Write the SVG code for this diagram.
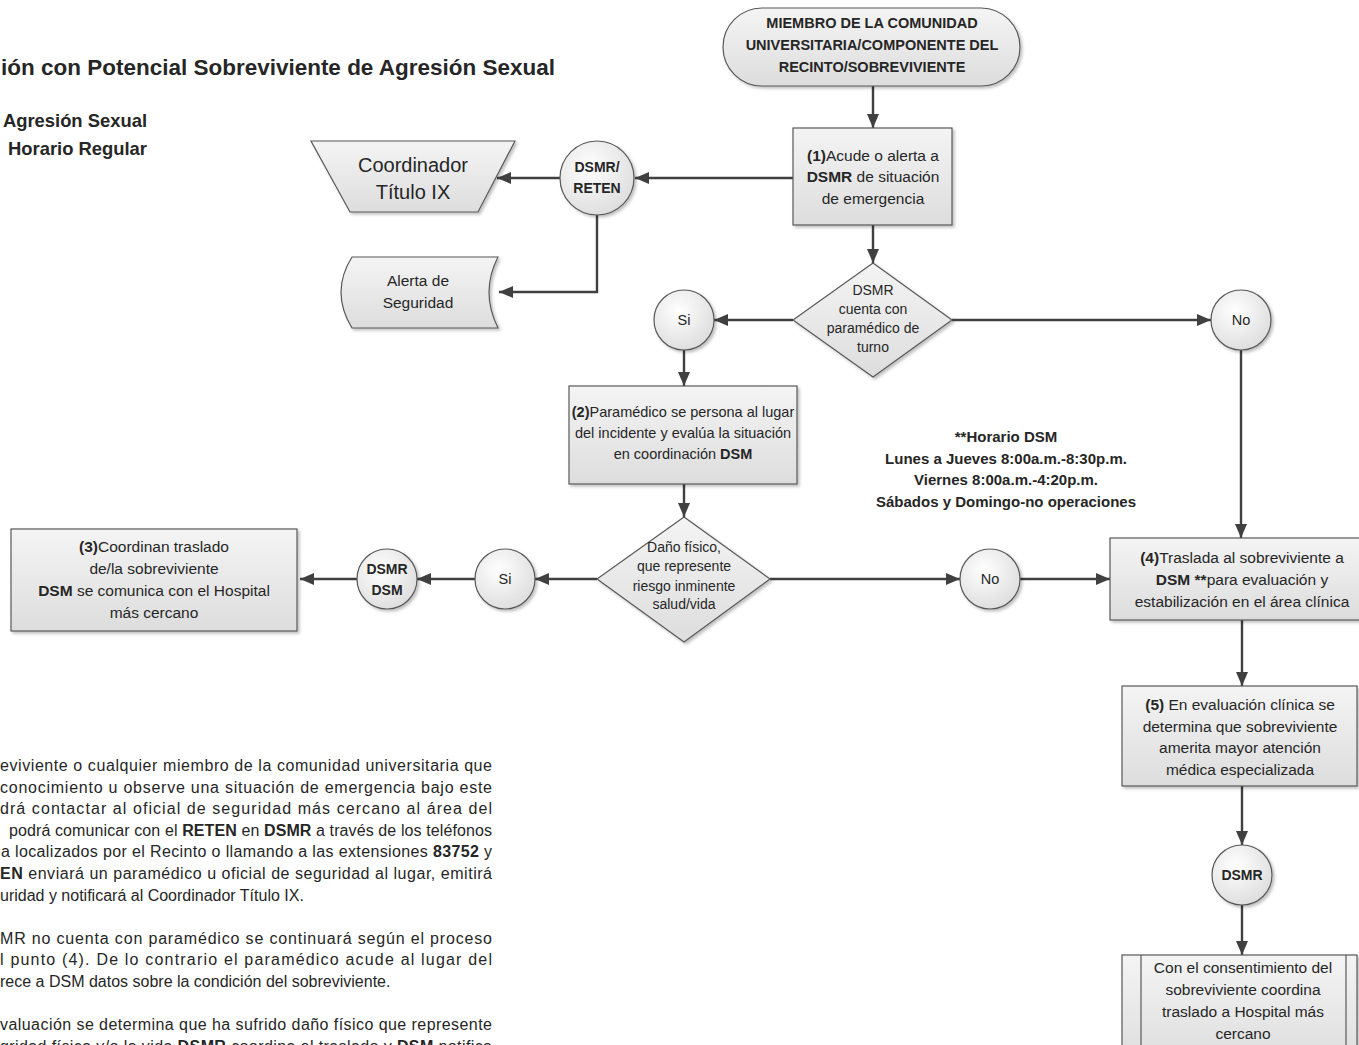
<svg xmlns="http://www.w3.org/2000/svg" width="1359" height="1045" viewBox="0 0 1359 1045">
<style>
text{font-family:"Liberation Sans",Arial,sans-serif;fill:#262626}
.b{font-weight:bold}
.c{text-anchor:middle}
.shape{fill:url(#gbox);stroke:#595959;stroke-width:1.2;filter:url(#sh)}
.circ{fill:url(#gcir);stroke:#595959;stroke-width:1.2;filter:url(#sh)}
.conn path,.conn line{fill:none;stroke:#404040;stroke-width:2.4;marker-end:url(#ah)}
.n15{font-size:15.5px}
.n14{font-size:14.5px}
.para{font-size:16px}
</style>
<defs>
<linearGradient id="gbox" x1="0" y1="0" x2="0" y2="1">
<stop offset="0" stop-color="#f4f4f4"/><stop offset="1" stop-color="#dddddd"/>
</linearGradient>
<radialGradient id="gcir" cx="0.4" cy="0.35" r="0.75">
<stop offset="0" stop-color="#ffffff"/><stop offset="1" stop-color="#dadada"/>
</radialGradient>
<filter id="sh" x="-10%" y="-10%" width="130%" height="130%">
<feDropShadow dx="2" dy="2" stdDeviation="1.5" flood-color="#000" flood-opacity="0.25"/>
</filter>
<marker id="ah" markerUnits="userSpaceOnUse" markerWidth="14" markerHeight="12" refX="14" refY="6" orient="auto">
<path d="M0,0 L14,6 L0,12 z" fill="#404040"/>
</marker>
</defs>
<rect width="1359" height="1045" fill="#ffffff"/>

<g id="title">
<text x="1" y="75" class="b" font-size="22.5" textLength="554" lengthAdjust="spacingAndGlyphs">ión con Potencial Sobreviviente de Agresión Sexual</text>
<text x="147" y="127" class="b" font-size="18.4" text-anchor="end">Agresión Sexual</text>
<text x="147" y="155" class="b" font-size="18.4" text-anchor="end">Horario Regular</text>
</g>

<g class="conn" id="connectors">
<line x1="873" y1="86" x2="873" y2="128"/>
<line x1="793" y1="178" x2="635" y2="178"/>
<line x1="560" y1="178" x2="497" y2="178"/>
<path d="M597,215 V292 H499"/>
<line x1="873" y1="225" x2="873" y2="263"/>
<line x1="793" y1="320" x2="714" y2="320"/>
<line x1="952" y1="320" x2="1211" y2="320"/>
<line x1="684" y1="350" x2="684" y2="386"/>
<line x1="684" y1="484" x2="684" y2="517"/>
<line x1="597" y1="579" x2="535" y2="579"/>
<line x1="475" y1="579" x2="417" y2="579"/>
<line x1="357" y1="579" x2="300" y2="579"/>
<line x1="770" y1="579" x2="960" y2="579"/>
<line x1="1020" y1="579" x2="1110" y2="579"/>
<line x1="1241" y1="350" x2="1241" y2="538"/>
<line x1="1242" y1="620" x2="1242" y2="686"/>
<line x1="1242" y1="786" x2="1242" y2="845"/>
<line x1="1242" y1="905" x2="1242" y2="955"/>
</g>

<g id="n-start">
<rect class="shape" x="723" y="8" width="297" height="78" rx="39" ry="39"/>
<text class="b c" font-size="14.5" x="872" y="28">MIEMBRO DE LA COMUNIDAD</text>
<text class="b c" font-size="14.5" x="872" y="50">UNIVERSITARIA/COMPONENTE DEL</text>
<text class="b c" font-size="14.5" x="872" y="72">RECINTO/SOBREVIVIENTE</text>
</g>

<g id="n-step1">
<rect class="shape" x="793" y="128" width="159" height="97"/>
<text class="c n15" x="873" y="161"><tspan class="b">(1)</tspan>Acude o alerta a</text>
<text class="c n15" x="873" y="182"><tspan class="b">DSMR</tspan> de situación</text>
<text class="c n15" x="873" y="204">de emergencia</text>
</g>

<g id="n-dsmr-reten">
<circle class="circ" cx="597" cy="178" r="37"/>
<text class="b c" font-size="14" x="597" y="172">DSMR/</text>
<text class="b c" font-size="14" x="597" y="193">RETEN</text>
</g>

<g id="n-coordinador">
<path class="shape" d="M311,141 H515 L478,212 H350 Z"/>
<text class="c" font-size="20" x="413" y="172">Coordinador</text>
<text class="c" font-size="20" x="413" y="199">Título IX</text>
</g>

<g id="n-alerta">
<path class="shape" d="M352,257 H498 Q480,292 498,328 H352 Q330,292 352,257 Z"/>
<text class="c n15" x="418" y="286">Alerta de</text>
<text class="c n15" x="418" y="308">Seguridad</text>
</g>

<g id="n-dec1">
<path class="shape" d="M873,263 L952,320 L873,377 L793,320 Z"/>
<text class="c" font-size="14" x="873" y="295">DSMR</text>
<text class="c" font-size="14" x="873" y="314">cuenta con</text>
<text class="c" font-size="14" x="873" y="333">paramédico de</text>
<text class="c" font-size="14" x="873" y="352">turno</text>
</g>

<g id="n-si1">
<circle class="circ" cx="684" cy="320" r="30"/>
<text class="c" font-size="14.5" x="684" y="325">Si</text>
</g>

<g id="n-no1">
<circle class="circ" cx="1241" cy="320" r="30"/>
<text class="c" font-size="14.5" x="1241" y="325">No</text>
</g>

<g id="n-step2">
<rect class="shape" x="569" y="386" width="228" height="98"/>
<text class="c n14" x="683" y="417"><tspan class="b">(2)</tspan>Paramédico se persona al lugar</text>
<text class="c n14" x="683" y="438">del incidente y evalúa la situación</text>
<text class="c n14" x="683" y="459">en coordinación <tspan class="b">DSM</tspan></text>
</g>

<g id="n-dec2">
<path class="shape" d="M684,517 L770,579 L684,642 L597,579 Z"/>
<text class="c" font-size="14" x="684" y="552">Daño físico,</text>
<text class="c" font-size="14" x="684" y="571">que represente</text>
<text class="c" font-size="14" x="684" y="591">riesgo inminente</text>
<text class="c" font-size="14" x="684" y="609">salud/vida</text>
</g>

<g id="n-si2">
<circle class="circ" cx="505" cy="579" r="30"/>
<text class="c" font-size="14.5" x="505" y="584">Si</text>
</g>

<g id="n-dsmr-dsm">
<circle class="circ" cx="387" cy="579" r="30"/>
<text class="b c" font-size="14" x="387" y="574">DSMR</text>
<text class="b c" font-size="14" x="387" y="595">DSM</text>
</g>

<g id="n-step3">
<rect class="shape" x="11" y="529" width="286" height="102"/>
<text class="c n15" x="154" y="552"><tspan class="b">(3)</tspan>Coordinan traslado</text>
<text class="c n15" x="154" y="574">de/la sobreviviente</text>
<text class="c n15" x="154" y="596"><tspan class="b">DSM</tspan> se comunica con el Hospital</text>
<text class="c n15" x="154" y="618">más cercano</text>
</g>

<g id="n-no2">
<circle class="circ" cx="990" cy="579" r="30"/>
<text class="c" font-size="14.5" x="990" y="584">No</text>
</g>

<g id="n-horario">
<text class="b c" font-size="15" x="1006" y="442">**Horario DSM</text>
<text class="b c" font-size="15" x="1006" y="464">Lunes a Jueves 8:00a.m.-8:30p.m.</text>
<text class="b c" font-size="15" x="1006" y="485">Viernes 8:00a.m.-4:20p.m.</text>
<text class="b c" font-size="15" x="1006" y="507">Sábados y Domingo-no operaciones</text>
</g>

<g id="n-step4">
<rect class="shape" x="1110" y="538" width="262" height="82"/>
<text class="c n15" x="1242" y="563"><tspan class="b">(4)</tspan>Traslada al sobreviviente a</text>
<text class="c n15" x="1242" y="585"><tspan class="b">DSM **</tspan>para evaluación y</text>
<text class="c n15" x="1242" y="607">estabilización en el área clínica</text>
</g>

<g id="n-step5">
<rect class="shape" x="1122" y="686" width="235" height="100"/>
<text class="c n15" x="1240" y="710"><tspan class="b">(5)</tspan> En evaluación clínica se</text>
<text class="c n15" x="1240" y="732">determina que sobreviviente</text>
<text class="c n15" x="1240" y="753">amerita mayor atención</text>
<text class="c n15" x="1240" y="775">médica especializada</text>
</g>

<g id="n-dsmr">
<circle class="circ" cx="1242" cy="875" r="30"/>
<text class="b c" font-size="14" x="1242" y="880">DSMR</text>
</g>

<g id="n-step6">
<rect class="shape" x="1122" y="955" width="235" height="110"/>
<line x1="1141" y1="955" x2="1141" y2="1065" stroke="#595959" stroke-width="1.2"/>
<line x1="1346" y1="955" x2="1346" y2="1065" stroke="#595959" stroke-width="1.2"/>
<text class="c n15" x="1243" y="973">Con el consentimiento del</text>
<text class="c n15" x="1243" y="995">sobreviviente coordina</text>
<text class="c n15" x="1243" y="1017">traslado a Hospital más</text>
<text class="c n15" x="1243" y="1039">cercano</text>
</g>

<g id="notes" class="para">
<text x="0" y="771" textLength="492" lengthAdjust="spacing">eviviente o cualquier miembro de la comunidad universitaria que</text>
<text x="0" y="792.6" textLength="492" lengthAdjust="spacing">conocimiento u observe una situación de emergencia bajo este</text>
<text x="0" y="814.2" textLength="492" lengthAdjust="spacing">drá contactar al oficial de seguridad más cercano al área del</text>
<text x="9" y="835.8" textLength="483" lengthAdjust="spacing">podrá comunicar con el <tspan class="b">RETEN</tspan> en <tspan class="b">DSMR</tspan> a través de los teléfonos</text>
<text x="1" y="857.4" textLength="491" lengthAdjust="spacing">a localizados por el Recinto o llamando a las extensiones <tspan class="b">83752</tspan> y</text>
<text x="0" y="879" textLength="492" lengthAdjust="spacing"><tspan class="b">EN</tspan> enviará un paramédico u oficial de seguridad al lugar, emitirá</text>
<text x="0" y="900.6">uridad  y notificará al Coordinador Título IX.</text>
<text x="0" y="943.8" textLength="492" lengthAdjust="spacing">MR no cuenta con paramédico se continuará según el proceso</text>
<text x="0" y="965.4" textLength="492" lengthAdjust="spacing">l punto (4). De lo contrario el paramédico acude al lugar del</text>
<text x="0" y="987">rece a DSM datos sobre la condición del sobreviviente.</text>
<text x="0" y="1030.2" textLength="492" lengthAdjust="spacing">valuación se determina que ha sufrido daño físico  que represente</text>
<text x="0" y="1051.8" textLength="492" lengthAdjust="spacing">gridad física y/o la vida <tspan class="b">DSMR</tspan> coordina el traslado y <tspan class="b">DSM</tspan> notifica</text>
</g>
</svg>
